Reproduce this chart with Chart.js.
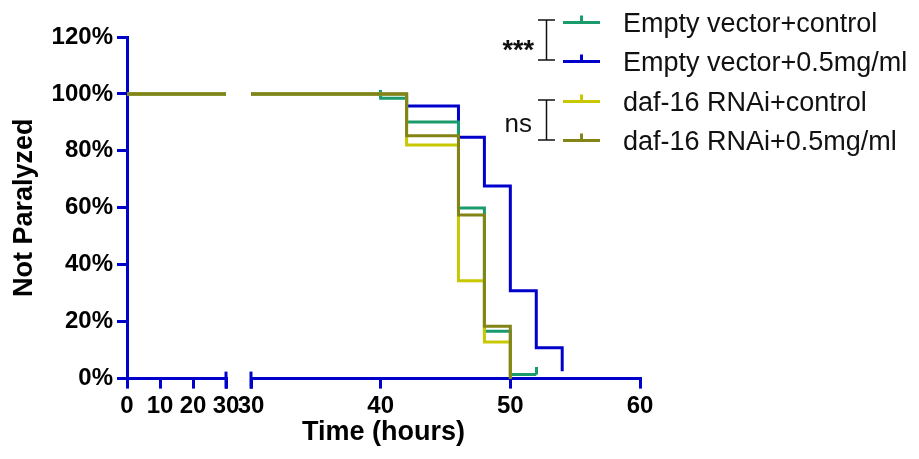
<!DOCTYPE html>
<html>
<head>
<meta charset="utf-8">
<script src="https://cdn.jsdelivr.net/npm/chart.js@4.4.0/dist/chart.umd.min.js"></script>
<style>
  html, body { margin: 0; padding: 0; background: #fff; }
</style>
</head>
<body>
<canvas id="survivalChart" width="919" height="459"></canvas>
<script>
"use strict";

// legend order
const seriesNames = ['Empty vector+control', 'Empty vector+0.5mg/ml', 'daf-16 RNAi+control', 'daf-16 RNAi+0.5mg/ml'];
const significance = ['***', 'ns'];

// left piece of the broken axis (0-30 h): nobody paralyzed yet
const earlyHours = [0, 30];
const earlyPct = [100, 100];

// right piece (30-60 h): time of each drop and % left after it
const emptyCtrlHours = [30, 40, 42, 46, 48, 50, 52];
const emptyCtrlPct = [100, 98.5, 90.1, 59.9, 16.6, 1.4, 1.4];
const emptyCtrlCensored = [40, 52];

const emptyDrugHours = [30, 42, 46, 48, 50, 52, 54];
const emptyDrugPct = [100, 95.8, 84.8, 67.7, 30.9, 10.8, 2.6];

const dafCtrlHours = [30, 42, 46, 48, 50];
const dafCtrlPct = [100, 82.1, 34.4, 12.9, 0];

const dafDrugHours = [30, 42, 46, 48, 50];
const dafDrugPct = [100, 85.3, 57.5, 18.4, 0];

const leftTicks = [0, 10, 20, 30];
const rightTicks = [30, 40, 50, 60];
const yTicks = [0, 20, 40, 60, 80, 100, 120];

const axisBlue = '#0000cc';
const colors = ['#1a9b6c', '#0000cc', '#c8c800', '#838316'];
const FONT = '"Liberation Sans", Arial, sans-serif';

Chart.defaults.font.family = FONT;
Chart.defaults.color = '#000';

const toPoints = (hours, pct) => hours.map((h, i) => ({ x: h, y: pct[i] }));

// small upward tick used for censored points
const censorMark = (color) => {
    const c = document.createElement('canvas');
    c.width = 3;
    c.height = 16;
    const g = c.getContext('2d');
    g.fillStyle = color;
    g.fillRect(0, 0, 3, 8);
    return c;
};

const late = [
    { hours: emptyCtrlHours, pct: emptyCtrlPct, censored: emptyCtrlCensored, order: 3 },
    { hours: emptyDrugHours, pct: emptyDrugPct, censored: [], order: 4 },
    { hours: dafCtrlHours, pct: dafCtrlPct, censored: [], order: 2 },
    { hours: dafDrugHours, pct: dafDrugPct, censored: [], order: 1 }
];

const datasets = [];
late.forEach((s, i) => {
    const mark = censorMark(colors[i]);
    const base = {
        label: seriesNames[i],
        borderColor: colors[i],
        backgroundColor: colors[i],
        borderWidth: 3,
        stepped: 'before',
        fill: false,
        clip: false,
        borderJoinStyle: 'miter',
        borderCapStyle: 'butt',
        order: s.order
    };
    datasets.push(Object.assign({}, base, {
        xAxisID: 'xa',
        data: toPoints(earlyHours, earlyPct),
        pointRadius: 0
    }));
    datasets.push(Object.assign({}, base, {
        xAxisID: 'xb',
        data: toPoints(s.hours, s.pct),
        pointStyle: (ctx) => s.censored.includes(ctx.raw.x) ? mark : 'circle',
        pointRadius: (ctx) => s.censored.includes(ctx.raw.x) ? 4 : 0
    }));
});

const tickFont = { size: 24, weight: 'bold' };
const xGrid = { drawOnChartArea: false, color: axisBlue, lineWidth: 3, tickLength: 10 };
const xBorder = { color: axisBlue, width: 3 };
const xHeight = (s) => { s.height = 38; };

// marks at both ends of the axis break
const breakMarks = {
    id: 'breakMarks',
    afterDraw(chart) {
        const ctx = chart.ctx;
        const pairs = [['xa', 30], ['xb', 30]];
        ctx.save();
        ctx.strokeStyle = axisBlue;
        ctx.lineWidth = 3;
        pairs.forEach(([id, v]) => {
            const sc = chart.scales[id];
            const px = sc.getPixelForValue(v);
            ctx.beginPath();
            ctx.moveTo(px, sc.top - 7);
            ctx.lineTo(px, sc.top + 10);
            ctx.stroke();
        });
        ctx.restore();
    }
};

// legend with significance brackets, top right
const sideLegend = {
    id: 'sideLegend',
    afterDraw(chart) {
        const ctx = chart.ctx;
        const rowY = [22.5, 61.5, 101.5, 140.5];
        ctx.save();
        seriesNames.forEach((name, i) => {
            const y = rowY[i];
            ctx.strokeStyle = colors[i];
            ctx.lineWidth = 3;
            ctx.beginPath();
            ctx.moveTo(563, y);
            ctx.lineTo(600, y);
            ctx.moveTo(581.5, y);
            ctx.lineTo(581.5, y - 7);
            ctx.stroke();
            ctx.fillStyle = '#111';
            ctx.font = '27px ' + FONT;
            ctx.textBaseline = 'alphabetic';
            ctx.textAlign = 'left';
            ctx.fillText(name, 623, y + 9.7);
        });
        ctx.strokeStyle = '#111';
        ctx.lineWidth = 1.5;
        [[20, 60], [100, 140]].forEach(([a, b]) => {
            ctx.beginPath();
            ctx.moveTo(538, a); ctx.lineTo(555, a);
            ctx.moveTo(546.5, a); ctx.lineTo(546.5, b);
            ctx.moveTo(538, b); ctx.lineTo(555, b);
            ctx.stroke();
        });
        ctx.fillStyle = '#111';
        ctx.textAlign = 'right';
        ctx.font = 'bold 27px ' + FONT;
        ctx.fillText(significance[0], 534, 59);
        ctx.font = '26px ' + FONT;
        ctx.fillText(significance[1], 532, 132);
        ctx.restore();
    }
};

new Chart(document.getElementById('survivalChart'), {
    type: 'line',
    data: { datasets: datasets },
    options: {
        responsive: false,
        animation: false,
        events: [],
        layout: { padding: { left: 0, right: 279, top: 37, bottom: 0 } },
        plugins: {
            legend: { display: false },
            tooltip: { enabled: false },
            title: {
                display: true,
                text: 'Time (hours)',
                position: 'bottom',
                fullSize: false,
                color: '#000',
                font: { size: 27, weight: 'bold' },
                padding: { top: 0, bottom: 10 }
            }
        },
        scales: {
            xa: {
                type: 'linear', position: 'bottom', stack: 'time', stackWeight: 99,
                min: 0, max: 30,
                afterBuildTicks: (s) => { s.ticks = leftTicks.map(v => ({ value: v })); },
                ticks: { font: tickFont, color: '#000', autoSkip: false, maxRotation: 0, minRotation: 0, padding: 3 },
                grid: xGrid, border: xBorder,
                afterFit: xHeight
            },
            gap: {
                type: 'linear', position: 'bottom', stack: 'time', stackWeight: 25,
                ticks: { display: false }, grid: { display: false }, border: { display: false },
                afterFit: xHeight
            },
            xb: {
                type: 'linear', position: 'bottom', stack: 'time', stackWeight: 389,
                min: 30, max: 60,
                afterBuildTicks: (s) => { s.ticks = rightTicks.map(v => ({ value: v })); },
                ticks: { font: tickFont, color: '#000', autoSkip: false, maxRotation: 0, minRotation: 0, padding: 3 },
                grid: xGrid, border: xBorder,
                afterFit: xHeight
            },
            y: {
                type: 'linear', position: 'left',
                min: 0, max: 120,
                afterBuildTicks: (s) => { s.ticks = yTicks.map(v => ({ value: v })); },
                ticks: { font: tickFont, color: '#000', padding: 4, callback: (v) => v + '%' },
                grid: { drawOnChartArea: false, color: axisBlue, lineWidth: 3, tickLength: 10 },
                border: { color: axisBlue, width: 3 },
                title: {
                    display: true, text: 'Not Paralyzed', color: '#000',
                    font: { size: 27, weight: 'bold' }, padding: { top: 8, bottom: 0 }
                },
                afterFit: (s) => { s.width = 127; }
            }
        }
    },
    plugins: [breakMarks, sideLegend]
});
</script>
</body>
</html>
